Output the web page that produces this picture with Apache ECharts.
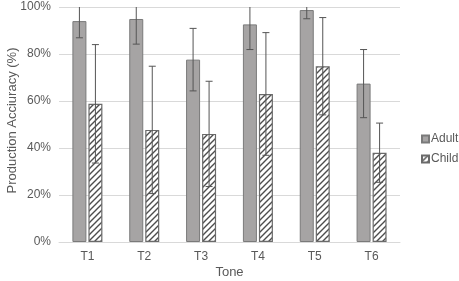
<!DOCTYPE html>
<html>
<head>
<meta charset="utf-8">
<script src="https://cdn.jsdelivr.net/npm/echarts@6/dist/echarts.min.js"></script>
<style>
  html, body { margin: 0; padding: 0; background: #fff; }
  #chart { width: 459px; height: 281px; }
</style>
</head>
<body>
<div id="chart"></div>
<script>
// data (percent)
var tones = ['T1', 'T2', 'T3', 'T4', 'T5', 'T6'];
var adultMean = [94.0, 94.9, 77.6, 92.6, 98.7, 67.4];
var adultSd = [7.1, 10.7, 13.3, 10.7, 3.7, 14.5];
var childMean = [58.8, 47.7, 46.0, 63.0, 74.8, 38.0];
var childSd = [25.2, 27.1, 22.4, 26.1, 20.7, 12.6];
var yTicks = [0, 20, 40, 60, 80, 100];

var BAR_W = 14;
var BAR_GAP = 2;
var FONT = 'Liberation Sans, Arial, sans-serif';

// diagonal hatch for the child bars
function hatch () {
  var c = document.createElement('canvas');
  c.width = 6; c.height = 6;
  var ctx = c.getContext('2d');
  ctx.fillStyle = '#fff';
  ctx.fillRect(0, 0, 6, 6);
  ctx.strokeStyle = '#4d4d4d';
  ctx.lineWidth = 1.4;
  ctx.beginPath();
  ctx.moveTo(-1, 7); ctx.lineTo(7, -1);
  ctx.moveTo(-4, 4); ctx.lineTo(4, -4);
  ctx.moveTo(2, 10); ctx.lineTo(10, 2);
  ctx.stroke();
  return c;
}

function errData (mean, sd, side) {
  return mean.map(function (m, i) {
    return [i, Math.max(0, m - sd[i]), m + sd[i], side];
  });
}

function renderErr (params, api) {
  var i = api.value(0);
  var lo = api.value(1);
  var hi = api.value(2);
  var side = api.value(3);
  var clipped = hi > 100;
  var off = side * (BAR_W + BAR_GAP) / 2;
  var pLo = api.coord([i, lo]);
  var pHi = api.coord([i, Math.min(hi, 100)]);
  var x = pLo[0] + off;
  var st = { stroke: '#555', lineWidth: 1 };
  var kids = [
    { type: 'line', shape: { x1: x, y1: pLo[1], x2: x, y2: pHi[1] }, style: st },
    { type: 'line', shape: { x1: x - 3.5, y1: pLo[1], x2: x + 3.5, y2: pLo[1] }, style: st }
  ];
  if (!clipped) {
    kids.push({ type: 'line', shape: { x1: x - 3.5, y1: pHi[1], x2: x + 3.5, y2: pHi[1] }, style: st });
  }
  return { type: 'group', children: kids };
}

var chart = echarts.init(document.getElementById('chart'));
chart.setOption({
  animation: false,
  grid: { left: 59, right: 59, top: 7, bottom: 39, outerBoundsMode: 'none', containLabel: false },
  legend: {
    orient: 'vertical',
    left: 416,
    top: 128,
    itemWidth: 7,
    itemHeight: 7,
    itemGap: 8,
    icon: 'rect',
    textStyle: { fontFamily: FONT, fontSize: 12, color: '#595959', padding: [0, 0, 0, -3] },
    data: ['Adult', 'Child']
  },
  xAxis: {
    type: 'category',
    data: tones,
    name: 'Tone',
    nameLocation: 'middle',
    nameGap: 24,
    nameMoveOverlap: false,
    nameTextStyle: { fontFamily: FONT, fontSize: 13, color: '#595959' },
    axisLine: { lineStyle: { color: '#d9d9d9', width: 1 } },
    axisTick: { show: false },
    axisLabel: { fontFamily: FONT, fontSize: 12, color: '#595959', margin: 9 }
  },
  yAxis: {
    type: 'value',
    min: yTicks[0],
    max: yTicks[yTicks.length - 1],
    interval: 20,
    name: 'Production Acciuracy (%)',
    nameLocation: 'middle',
    nameGap: 40,
    nameMoveOverlap: false,
    nameTextStyle: { fontFamily: FONT, fontSize: 13, color: '#595959', padding: [0, 0, 0, 8] },
    axisLine: { show: false },
    axisTick: { show: false },
    axisLabel: { fontFamily: FONT, fontSize: 12, color: '#595959', margin: 8, formatter: '{value}%' },
    splitLine: { lineStyle: { color: '#d9d9d9', width: 1 } }
  },
  series: [
    {
      name: 'Adult',
      type: 'bar',
      barWidth: BAR_W,
      barGap: (BAR_GAP / BAR_W * 100) + '%',
      itemStyle: { color: '#a6a4a4', borderColor: '#7a7a7a', borderWidth: 1 },
      data: adultMean
    },
    {
      name: 'Child',
      type: 'bar',
      barWidth: BAR_W,
      itemStyle: { color: { image: hatch(), repeat: 'repeat' }, borderColor: '#6a6a6a', borderWidth: 1.2 },
      data: childMean
    },
    {
      type: 'custom',
      renderItem: renderErr,
      encode: { x: 0, y: [1, 2] },
      z: 10,
      data: errData(adultMean, adultSd, -1)
    },
    {
      type: 'custom',
      renderItem: renderErr,
      encode: { x: 0, y: [1, 2] },
      z: 10,
      data: errData(childMean, childSd, 1)
    }
  ]
});
</script>
</body>
</html>
